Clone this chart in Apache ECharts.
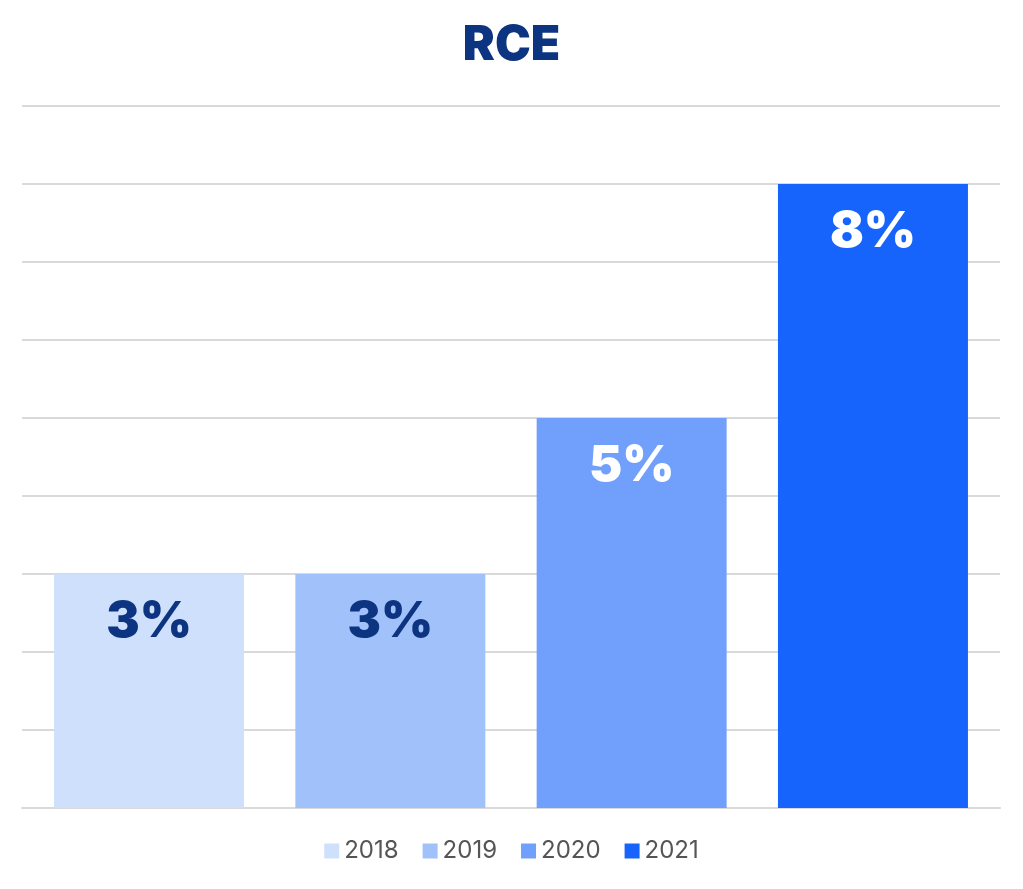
<!DOCTYPE html>
<html>
<head>
<meta charset="utf-8">
<title>RCE</title>
<script src="https://cdn.jsdelivr.net/npm/echarts@6/dist/echarts.min.js"></script>
<style>
  html, body { margin: 0; padding: 0; background: #fff; }
  #chart { width: 1023px; height: 889px; }
</style>
</head>
<body>
<div id="chart"></div>
<script>
  // data
  const years = ['2018', '2019', '2020', '2021'];
  const values = [3, 3, 5, 8];
  const colors = ['#cfe0fc', '#a1c1fb', '#70a0fc', '#1664fb'];
  const labelColors = ['#0d3480', '#0d3480', '#ffffff', '#ffffff'];

  let myChart = echarts.init(document.getElementById('chart'));

  let series = years.map(function (y, i) {
    return {
      name: y,
      type: 'bar',
      data: [values[i]],
      barWidth: 190,
      barGap: '27%',
      itemStyle: { color: colors[i] },
      label: {
        show: true,
        position: 'insideTop',
        distance: 23,
        formatter: '{c}%',
        color: labelColors[i],
        fontFamily: 'Inter',
        fontWeight: 900,
        fontSize: 50
      }
    };
  });

  let option = {
    animation: false,
    title: {
      text: 'RCE',
      left: 'center',
      top: 17,
      textStyle: {
        color: '#0d3480',
        fontFamily: 'Inter',
        fontWeight: 900,
        fontSize: 48
      }
    },
    legend: {
      bottom: 21,
      left: 'center',
      itemWidth: 15,
      itemHeight: 15,
      itemGap: 24,
      icon: 'rect',
      textStyle: {
        color: '#555',
        fontFamily: 'Inter',
        fontSize: 24
      },
      data: years
    },
    grid: {
      left: 22,
      right: 23,
      top: 106,
      bottom: 81
    },
    xAxis: {
      type: 'category',
      data: ['RCE'],
      axisLabel: { show: false },
      axisTick: { show: false },
      axisLine: { show: true, lineStyle: { color: '#d9d9d9', width: 2 } }
    },
    yAxis: {
      type: 'value',
      min: 0,
      max: 9,
      interval: 1,
      axisLabel: { show: false },
      axisLine: { show: false },
      axisTick: { show: false },
      splitLine: { lineStyle: { color: '#d9d9d9', width: 2 } }
    },
    series: series
  };

  myChart.setOption(option);
  window.addEventListener('resize', function () {
    myChart.resize();
  });
</script>
</body>
</html>
